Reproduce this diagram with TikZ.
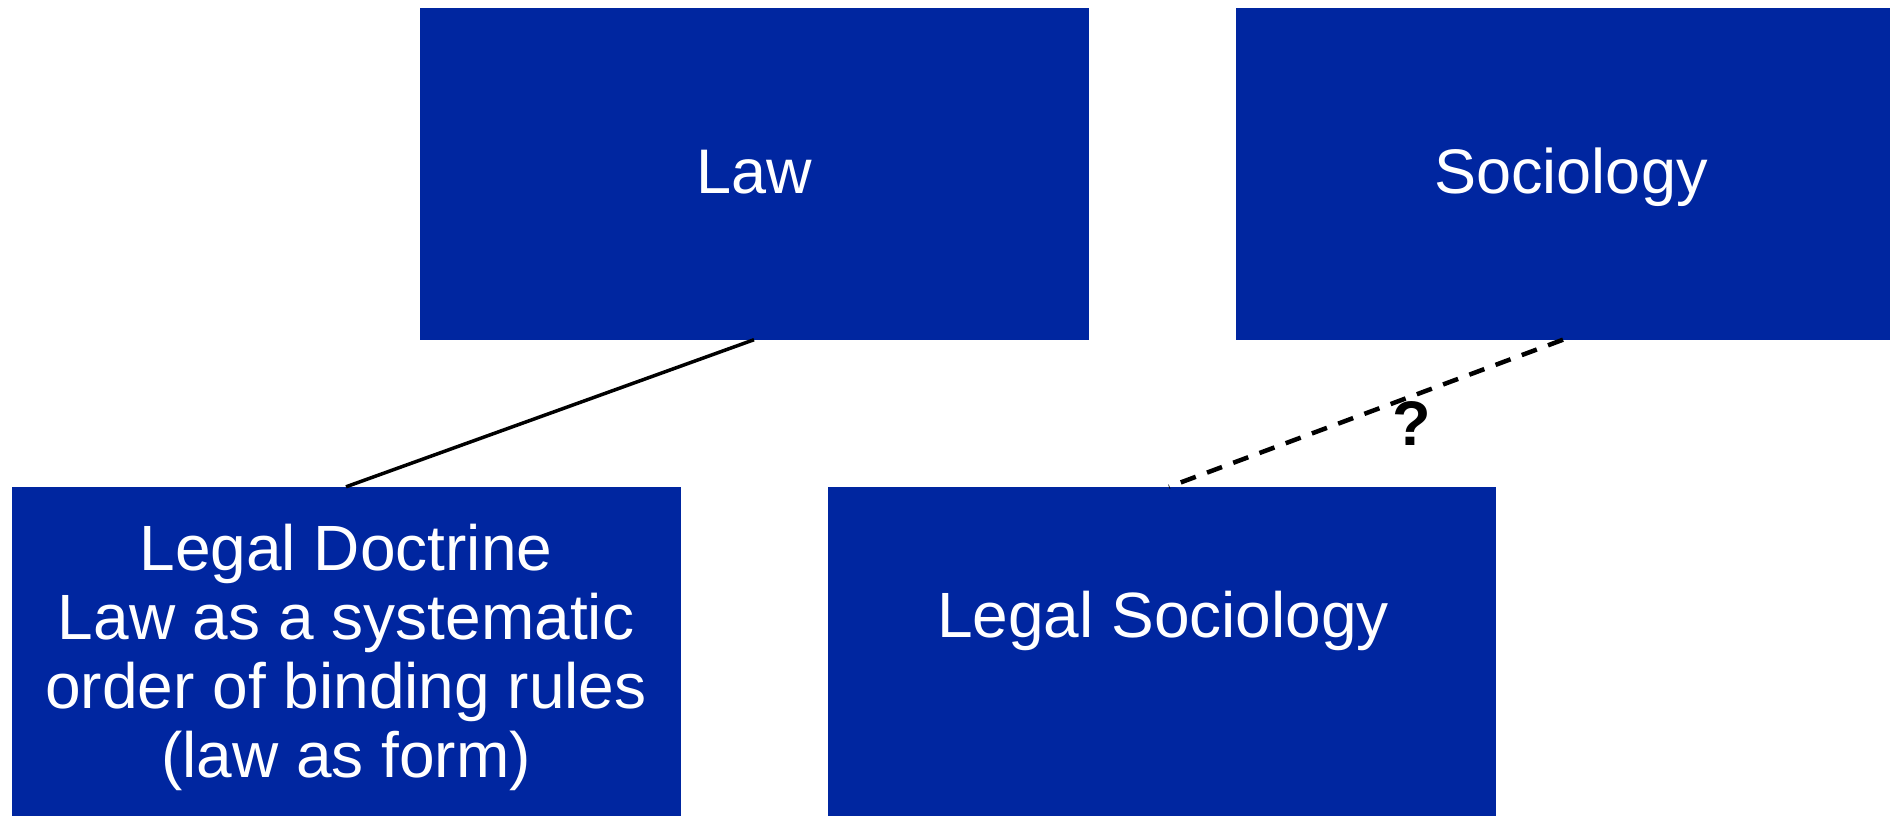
\documentclass[tikz,border=0pt]{standalone}
\usepackage{fontspec}
\setmainfont{Liberation Sans}
\usetikzlibrary{calc}
\definecolor{boxblue}{RGB}{0,38,160}
\begin{document}
\begin{tikzpicture}[x=1pt,y=-1pt,
  bluebox/.style={rectangle,fill=boxblue,draw=none,inner sep=0pt},
  boxtext/.style={text=white,font=\fontsize{63}{69}\selectfont,inner sep=0pt,align=center},
  lowtext/.style={boxtext,font=\fontsize{64}{69}\selectfont},
  solidlink/.style={line width=3.5pt},
  dashlink/.style={line width=4.5pt,dash pattern=on 16pt off 12pt}]
\useasboundingbox (0,0) rectangle (1890,815);
\node[bluebox,minimum width=669pt,minimum height=332pt] (law) at (754,173.5) {};
\node[bluebox,minimum width=655pt,minimum height=332pt] (soc) at (1563,173.5) {};
\node[bluebox,minimum width=669pt,minimum height=340pt] (doc) at (346,657) {};
\node[bluebox,minimum width=668pt,minimum height=340pt] (lsoc) at (1162,657) {};
\node[boxtext,anchor=base] (lawt) at (754,193) {Law};
\node[boxtext,anchor=base] (soct) at (1571,193) {Sociology};
\node[lowtext,anchor=base] (lsoct) at (1163,637) {Legal Sociology};
\node[lowtext] (doct) at (346,657) {Legal Doctrine\\Law as a systematic\\order of binding rules\\(law as form)};
\draw[solidlink] (law.south) -- (doc.north);
\coordinate (dend) at ($(lsoc.north)+(7,0)$);
\draw[dashlink] (soc.south) -- (dend);
\node[font=\fontsize{63}{69}\selectfont\bfseries,inner sep=0pt,anchor=base] (q) at (1412,445) {?};
\end{tikzpicture}
\end{document}
